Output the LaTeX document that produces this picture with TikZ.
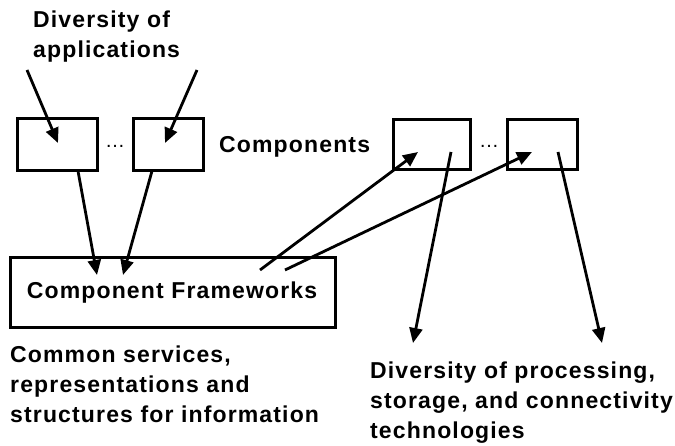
\documentclass[tikz,border=0pt]{standalone}
\usepackage{fontspec}
\setmainfont{Liberation Sans}
\newfontfamily\lblfont[LetterSpace=5]{Liberation Sans}
\usetikzlibrary{arrows.meta}
\begin{document}
\begin{tikzpicture}[x=1pt,y=-1pt,
  comp/.style={draw,line width=3pt,inner sep=0pt},
  lbl/.style={inner sep=0pt,align=left,font=\lblfont\fontsize{23}{30}\selectfont\bfseries},
  arr/.style={line width=2.8pt,-{Triangle[length=15pt,width=13pt]}},
  dots/.style={inner sep=0pt,font=\fontsize{20}{20}\selectfont}]
\useasboundingbox (0,0) rectangle (675,446);
\fill[white] (0,0) rectangle (675,446);
% boxes
\draw[comp] (17,119) rectangle (97,171);
\draw[comp] (133,119) rectangle (203,171);
\draw[comp] (393,120) rectangle (470,170);
\draw[comp] (507,120) rectangle (577,170);
\draw[comp] (10,258) rectangle (335,328);
\coordinate (b1b) at (78,171);
\coordinate (b2b) at (152,171);
\node[dots] (d1) at (115,146) {\ldots};
\node[dots] (d2) at (489,146) {\ldots};
\node[lbl,anchor=west] (comps) at (219,147) {Components};
\node[lbl] (cf) at (172,293) {Component Frameworks};
\node[lbl,anchor=north west] (apps) at (33,11) {Diversity of\\applications};
\node[lbl,anchor=north west] (common) at (10,346) {Common services,\\representations and\\structures for information};
\node[lbl,anchor=north west] (tech) at (370,362) {Diversity of processing,\\storage, and connectivity\\technologies};
% coordinates
\coordinate (a1s) at (27,70);
\coordinate (a1e) at (58,143);
\coordinate (a2s) at (197,70);
\coordinate (a2e) at (165,143);
\coordinate (c1e) at (97,275);
\coordinate (c2e) at (123,275);
\coordinate (f1s) at (260,270);
\coordinate (f1e) at (418,152);
\coordinate (f2s) at (285,270);
\coordinate (f2e) at (532,152);
\coordinate (t1s) at (451,152);
\coordinate (t1e) at (413,343);
\coordinate (t2s) at (558,152);
\coordinate (t2e) at (602,343);
\draw[arr] (a1s) -- (a1e);
\draw[arr] (a2s) -- (a2e);
\draw[arr] (b1b) -- (c1e);
\draw[arr] (b2b) -- (c2e);
\draw[arr] (f1s) -- (f1e);
\draw[arr] (f2s) -- (f2e);
\draw[arr] (t1s) -- (t1e);
\draw[arr] (t2s) -- (t2e);
\end{tikzpicture}
\end{document}
